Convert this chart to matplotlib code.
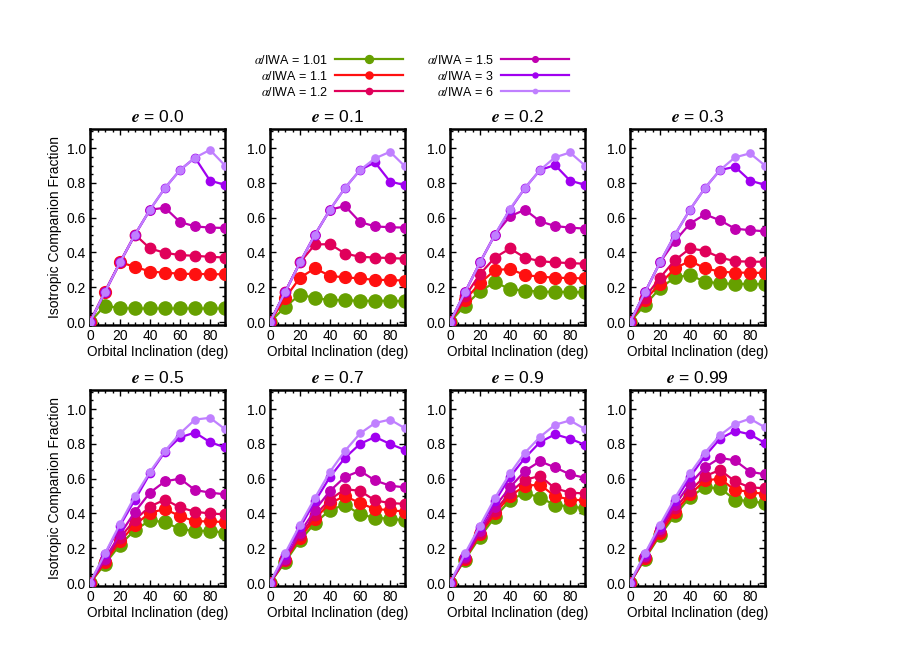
#!/usr/bin/env python3
"""Isotropic companion fraction vs orbital inclination, one panel per eccentricity."""
import matplotlib
matplotlib.use("Agg")
import matplotlib.pyplot as plt
from matplotlib.ticker import MultipleLocator

plt.rcParams["font.family"] = ["Liberation Sans", "DejaVu Sans"]
plt.rcParams["mathtext.fontset"] = "stix"

INCL = [0, 10, 20, 30, 40, 50, 60, 70, 80, 90]
ECC_LABELS = ["0.0", "0.1", "0.2", "0.3", "0.5", "0.7", "0.9", "0.99"]
SEP_LABELS = ["1.01", "1.1", "1.2", "1.5", "3", "6"]

# one list per eccentricity panel, one row per alpha/IWA (1.01 ... 6)
frac_e00 = [
    [0, 0.095, 0.08, 0.078, 0.078, 0.078, 0.078, 0.078, 0.078, 0.078],
    [0, 0.175, 0.343, 0.318, 0.29, 0.284, 0.278, 0.276, 0.276, 0.274],
    [0, 0.175, 0.343, 0.503, 0.423, 0.398, 0.385, 0.381, 0.375, 0.371],
    [0, 0.173, 0.343, 0.503, 0.646, 0.657, 0.575, 0.55, 0.543, 0.541],
    [0, 0.173, 0.343, 0.503, 0.646, 0.771, 0.874, 0.945, 0.813, 0.789],
    [0, 0.173, 0.343, 0.503, 0.646, 0.771, 0.874, 0.945, 0.99, 0.90],
]
frac_e01 = [
    [0, 0.086, 0.158, 0.138, 0.127, 0.125, 0.122, 0.122, 0.122, 0.12],
    [0, 0.137, 0.255, 0.309, 0.265, 0.257, 0.251, 0.242, 0.242, 0.238],
    [0, 0.171, 0.343, 0.446, 0.448, 0.394, 0.375, 0.371, 0.368, 0.364],
    [0, 0.171, 0.343, 0.503, 0.646, 0.667, 0.575, 0.55, 0.545, 0.543],
    [0, 0.171, 0.343, 0.503, 0.646, 0.771, 0.874, 0.918, 0.808, 0.787],
    [0, 0.171, 0.343, 0.503, 0.646, 0.771, 0.874, 0.941, 0.979, 0.895],
]
frac_e02 = [
    [0, 0.095, 0.177, 0.229, 0.189, 0.181, 0.175, 0.173, 0.173, 0.171],
    [0, 0.128, 0.223, 0.299, 0.305, 0.27, 0.261, 0.255, 0.253, 0.251],
    [0, 0.147, 0.276, 0.371, 0.423, 0.37, 0.35, 0.343, 0.339, 0.335],
    [0, 0.171, 0.343, 0.503, 0.608, 0.646, 0.579, 0.552, 0.543, 0.537],
    [0, 0.171, 0.343, 0.503, 0.646, 0.771, 0.874, 0.903, 0.813, 0.789],
    [0, 0.171, 0.343, 0.503, 0.651, 0.771, 0.874, 0.947, 0.975, 0.90],
]
frac_e03 = [
    [0, 0.099, 0.194, 0.257, 0.27, 0.232, 0.223, 0.219, 0.219, 0.217],
    [0, 0.128, 0.219, 0.309, 0.352, 0.309, 0.29, 0.284, 0.284, 0.282],
    [0, 0.141, 0.255, 0.356, 0.423, 0.41, 0.371, 0.35, 0.347, 0.347],
    [0, 0.171, 0.343, 0.467, 0.566, 0.619, 0.585, 0.537, 0.528, 0.522],
    [0, 0.171, 0.343, 0.503, 0.646, 0.771, 0.874, 0.893, 0.813, 0.789],
    [0, 0.171, 0.343, 0.503, 0.646, 0.771, 0.874, 0.947, 0.97, 0.90],
]
frac_e05 = [
    [0, 0.11, 0.22, 0.305, 0.36, 0.35, 0.31, 0.30, 0.30, 0.29],
    [0, 0.12, 0.24, 0.335, 0.405, 0.425, 0.385, 0.355, 0.355, 0.35],
    [0, 0.13, 0.26, 0.365, 0.44, 0.48, 0.435, 0.41, 0.40, 0.395],
    [0, 0.14, 0.28, 0.41, 0.52, 0.585, 0.60, 0.535, 0.52, 0.51],
    [0, 0.165, 0.33, 0.48, 0.63, 0.755, 0.838, 0.865, 0.81, 0.78],
    [0, 0.17, 0.34, 0.50, 0.64, 0.76, 0.86, 0.94, 0.95, 0.885],
]
frac_e07 = [
    [0, 0.12, 0.245, 0.345, 0.42, 0.45, 0.395, 0.375, 0.37, 0.36],
    [0, 0.13, 0.26, 0.37, 0.46, 0.50, 0.46, 0.425, 0.42, 0.41],
    [0, 0.135, 0.275, 0.39, 0.48, 0.54, 0.53, 0.475, 0.46, 0.455],
    [0, 0.14, 0.29, 0.42, 0.53, 0.61, 0.645, 0.59, 0.56, 0.55],
    [0, 0.16, 0.32, 0.47, 0.61, 0.72, 0.80, 0.84, 0.80, 0.765],
    [0, 0.17, 0.335, 0.49, 0.64, 0.76, 0.86, 0.92, 0.94, 0.89],
]
frac_e09 = [
    [0, 0.135, 0.265, 0.38, 0.475, 0.52, 0.49, 0.45, 0.44, 0.43],
    [0, 0.14, 0.28, 0.40, 0.50, 0.56, 0.565, 0.50, 0.48, 0.475],
    [0, 0.145, 0.29, 0.415, 0.52, 0.595, 0.615, 0.545, 0.52, 0.515],
    [0, 0.15, 0.30, 0.44, 0.55, 0.645, 0.70, 0.665, 0.625, 0.605],
    [0, 0.16, 0.32, 0.47, 0.61, 0.72, 0.81, 0.855, 0.83, 0.795],
    [0, 0.17, 0.33, 0.49, 0.63, 0.75, 0.84, 0.91, 0.935, 0.885],
]
frac_e099 = [
    [0, 0.14, 0.275, 0.39, 0.495, 0.55, 0.545, 0.48, 0.47, 0.46],
    [0, 0.145, 0.285, 0.41, 0.51, 0.59, 0.60, 0.535, 0.525, 0.51],
    [0, 0.15, 0.30, 0.43, 0.53, 0.615, 0.65, 0.585, 0.55, 0.545],
    [0, 0.155, 0.31, 0.45, 0.57, 0.665, 0.72, 0.705, 0.64, 0.625],
    [0, 0.165, 0.325, 0.47, 0.61, 0.73, 0.83, 0.875, 0.855, 0.805],
    [0, 0.17, 0.335, 0.49, 0.63, 0.75, 0.85, 0.915, 0.945, 0.895],
]
PANELS = [frac_e00, frac_e01, frac_e02, frac_e03,
          frac_e05, frac_e07, frac_e09, frac_e099]

COLORS = ["#66a000", "#ff1010", "#e0005a", "#c000b0", "#a000f0", "#c080ff"]
MSIZE = [9.5, 8.5, 7.5, 6.8, 6.0, 5.2]

fig = plt.figure(figsize=(9, 6.5), dpi=100)
lefts = [90, 270, 450, 630]
handles = []
for k, data in enumerate(PANELS):
    row, col = divmod(k, 4)
    top_px = 129 if row == 0 else 390
    ax = fig.add_axes([lefts[col] / 900, 1 - (top_px + 196) / 650,
                       135 / 900, 196 / 650])
    for j, ys in enumerate(data):
        ln, = ax.plot(INCL, ys, "-o", color=COLORS[j], lw=1.6,
                      ms=MSIZE[j], mec=COLORS[j], clip_on=True, zorder=2 + j)
        if k == 0:
            handles.append(ln)
    ax.set_xlim(0, 90)
    ax.set_ylim(-0.017, 1.11)
    ax.xaxis.set_major_locator(MultipleLocator(20))
    ax.xaxis.set_minor_locator(MultipleLocator(5))
    ax.yaxis.set_major_locator(MultipleLocator(0.2))
    ax.yaxis.set_minor_locator(MultipleLocator(0.05))
    ax.yaxis.set_major_formatter(plt.FormatStrFormatter("%.1f"))
    ax.tick_params(which="both", direction="in", top=True, right=True,
                   labelsize=10, width=1.0, pad=3)
    ax.tick_params(which="major", length=4)
    ax.tick_params(which="minor", length=2)
    for s in ax.spines.values():
        s.set_linewidth(1.8)
    ax.set_title(r"$\mathbfit{e}$ = " + ECC_LABELS[k], fontsize=12.5, pad=5)
    ax.set_xlabel("Orbital Inclination (deg)", fontsize=9.8, labelpad=1)
    if col == 0:
        ax.set_ylabel("Isotropic Companion Fraction", fontsize=10, labelpad=3)

labels = [r"$\alpha$/IWA = " + s for s in SEP_LABELS]
fig.legend(handles, labels, loc="upper center", bbox_to_anchor=(0.457, 0.935),
           ncol=2, frameon=False, markerfirst=False, fontsize=9,
           handlelength=5.4, handletextpad=0.6, columnspacing=1.9,
           labelspacing=0.25, markerscale=0.6)

fig.savefig("out.png", dpi=100)
